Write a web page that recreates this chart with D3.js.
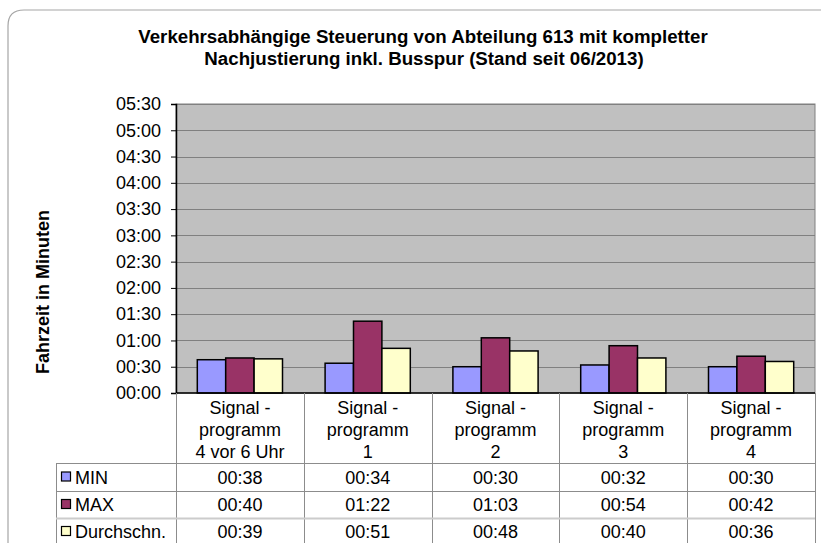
<!DOCTYPE html>
<html>
<head>
<meta charset="utf-8">
<script src="https://d3js.org/d3.v7.min.js"></script>
<style>
  body { margin: 0; background: #fff; }
  text { font-family: "Liberation Sans", Arial, sans-serif; fill: #000; }
</style>
</head>
<body>
<div id="chart"></div>
<script>
// values in seconds, shown as mm:ss
var categories = [
    ["Signal -", "programm", "4 vor 6 Uhr"],
    ["Signal -", "programm", "1"],
    ["Signal -", "programm", "2"],
    ["Signal -", "programm", "3"],
    ["Signal -", "programm", "4"]
];
var seriesNames = ["MIN", "MAX", "Durchschn."];
var minValues = [38, 34, 30, 32, 30];
var maxValues = [40, 82, 63, 54, 42];
var avgValues = [39, 51, 48, 40, 36];
var yTicks = [0, 30, 60, 90, 120, 150, 180, 210, 240, 270, 300, 330];
var colors = ["#9999ff", "#993366", "#ffffcc"];

var series = [minValues, maxValues, avgValues];

canWidth = 821;
canHeight = 543;

plotLeft = 176;
plotRight = 815;
plotTop = 104;
plotBottom = 393;
tableLeft = 56;
rowTops = [463, 491, 518, 545];
font_size = 18;

function fmt(v) {
    return d3.format("02")(Math.floor(v / 60)) + ":" + d3.format("02")(v % 60);
}

var svg = d3
    .select("#chart")
    .append("svg")
    .attr("width", canWidth)
    .attr("height", canHeight);

// chart area border, rounded top-left corner
svg.append("path")
    .attr("d", "M8,545L8,26Q8,10 24,10L823,10")
    .attr("stroke", "#a6a6a6")
    .attr("stroke-width", 1.2)
    .attr("fill", "none");

// title
var title = svg.append("text")
    .attr("x", 423)
    .attr("y", 43)
    .attr("text-anchor", "middle")
    .attr("font-size", 18.7)
    .attr("font-weight", "bold");
title.append("tspan").attr("x", 423).text("Verkehrsabhängige Steuerung von Abteilung 613 mit kompletter");
title.append("tspan").attr("x", 424).attr("dy", 21.5).text("Nachjustierung inkl. Busspur (Stand seit 06/2013)");

var x = d3.scaleBand()
    .domain(d3.range(categories.length))
    .range([plotLeft, plotRight]);

var xs = d3.scaleBand()
    .domain(d3.range(seriesNames.length))
    .range([0, x.bandwidth()])
    .paddingOuter(0.75);

var y = d3.scaleLinear()
    .domain([0, 330])
    .range([plotBottom, plotTop]);

// plot background
svg.append("rect")
    .attr("x", plotLeft)
    .attr("y", plotTop)
    .attr("width", plotRight - plotLeft)
    .attr("height", plotBottom - plotTop)
    .attr("fill", "#c0c0c0")
    .attr("stroke", "#808080")
    .attr("stroke-width", 1);

// gridlines
svg.append("g")
    .selectAll("line")
    .data(yTicks.slice(1))
    .enter()
    .append("line")
    .attr("x1", plotLeft)
    .attr("x2", plotRight)
    .attr("y1", function (d) { return Math.round(y(d)) + 0.5; })
    .attr("y2", function (d) { return Math.round(y(d)) + 0.5; })
    .attr("stroke", "#808080")
    .attr("stroke-width", 1);

// y axis
var yAxis = svg.append("g")
    .attr("transform", "translate(" + plotLeft + ",0)")
    .call(d3.axisLeft(y).tickValues(yTicks).tickFormat(fmt).tickSize(5).tickPadding(10));
yAxis.select(".domain").attr("stroke", "#000").attr("stroke-width", 1.5);
yAxis.selectAll("text").attr("font-size", font_size).attr("font-family", "Liberation Sans, Arial, sans-serif");

svg.append("text")
    .attr("transform", "translate(49,292) rotate(-90)")
    .attr("text-anchor", "middle")
    .attr("font-size", 18)
    .attr("font-weight", "bold")
    .text("Fahrzeit in Minuten");

// bars
var groups = svg.append("g")
    .selectAll("g")
    .data(categories)
    .enter()
    .append("g")
    .attr("transform", function (d, i) { return "translate(" + x(i) + ",0)"; });

groups.selectAll("rect")
    .data(function (d, i) {
        return series.map(function (s, j) { return { s: j, v: s[i] }; });
    })
    .enter()
    .append("rect")
    .attr("x", function (d) { return xs(d.s); })
    .attr("y", function (d) { return y(d.v); })
    .attr("width", xs.bandwidth())
    .attr("height", function (d) { return plotBottom - y(d.v); })
    .attr("fill", function (d) { return colors[d.s]; })
    .attr("stroke", "#000")
    .attr("stroke-width", 1.5);

// x axis line
svg.append("line")
    .attr("x1", plotLeft)
    .attr("x2", plotRight)
    .attr("y1", plotBottom)
    .attr("y2", plotBottom)
    .attr("stroke", "#000")
    .attr("stroke-width", 1.5);

// data table grid
var grid = svg.append("g").attr("stroke", "#8c8c8c").attr("stroke-width", 1);
d3.range(categories.length + 1).forEach(function (i) {
    var xx = i < categories.length ? x(i) : plotRight;
    grid.append("line")
        .attr("x1", Math.round(xx) + 0.5).attr("x2", Math.round(xx) + 0.5)
        .attr("y1", plotBottom).attr("y2", canHeight);
});
grid.append("line")
    .attr("x1", tableLeft + 0.5).attr("x2", tableLeft + 0.5)
    .attr("y1", rowTops[0]).attr("y2", canHeight);
rowTops.slice(0, 3).forEach(function (r, i) {
    grid.append("line")
        .attr("x1", tableLeft).attr("x2", plotRight)
        .attr("y1", r + 0.5).attr("y2", r + 0.5)
        .attr("stroke", i == 2 ? "#cccccc" : "#8c8c8c")
        .attr("stroke-width", i == 2 ? 2 : 1);
});

// category labels
categories.forEach(function (lines, i) {
    var t = svg.append("text")
        .attr("text-anchor", "middle")
        .attr("font-size", font_size);
    lines.forEach(function (l, k) {
        t.append("tspan")
            .attr("x", x(i) + x.bandwidth() / 2)
            .attr("y", 414 + k * 22)
            .text(l);
    });
});

// table rows: legend key, name, values
seriesNames.forEach(function (name, j) {
    var cy = (rowTops[j] + rowTops[j + 1]) / 2;
    svg.append("rect")
        .attr("x", 61.5)
        .attr("y", cy - 5)
        .attr("width", 9)
        .attr("height", 9)
        .attr("fill", colors[j])
        .attr("stroke", "#000")
        .attr("stroke-width", 1.2);
    svg.append("text")
        .attr("x", 75)
        .attr("y", cy + 6.5)
        .attr("font-size", font_size)
        .text(name);
    series[j].forEach(function (v, i) {
        svg.append("text")
            .attr("x", x(i) + x.bandwidth() / 2)
            .attr("y", cy + 6.5)
            .attr("text-anchor", "middle")
            .attr("font-size", font_size)
            .text(fmt(v));
    });
});
</script>
</body>
</html>
